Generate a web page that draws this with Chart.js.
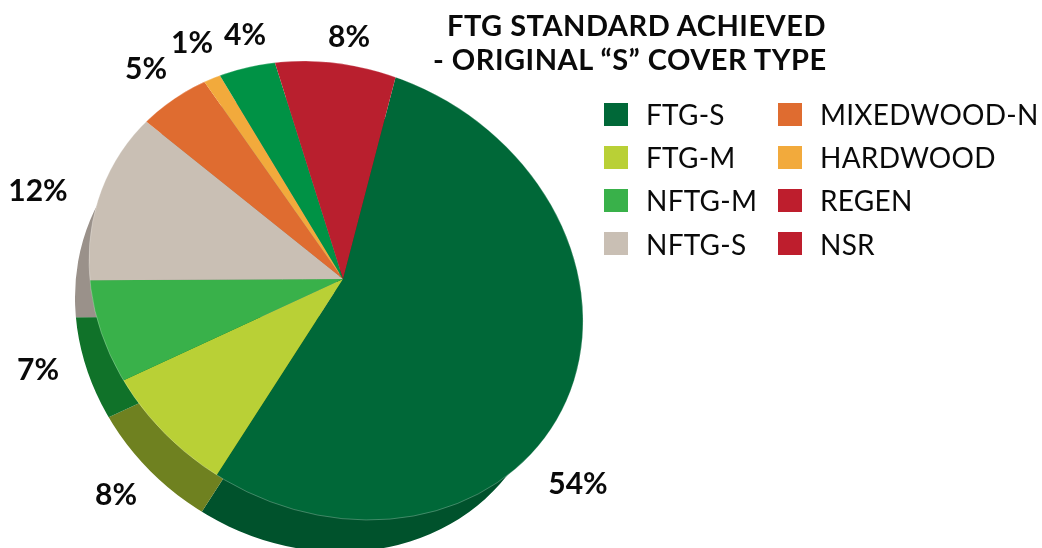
<!DOCTYPE html>
<html>
<head>
<meta charset="utf-8">
<script src="https://cdn.jsdelivr.net/npm/chart.js@4"></script>
<style>
html, body { margin: 0; padding: 0; background: #fff; }
#wrap { position: relative; width: 1042px; height: 548px; overflow: hidden; font-family: Lato, sans-serif; color: #0a0a0a; }
canvas { position: absolute; }
#back { left: -15px; top: 37px; }
#front { left: 0; top: 0; }
.txt { position: absolute; white-space: nowrap; line-height: 1; }
.pct { font-size: 30px; font-weight: 700; transform: translate(-50%, -50%); }
.ttl { font-size: 29px; font-weight: 700; letter-spacing: 0.5px; }
.leg { font-size: 28px; font-weight: 400; letter-spacing: 0.25px; }
.swatch { position: absolute; width: 24px; height: 23px; }
</style>
</head>
<body>
<div id="wrap">
  <canvas id="back" width="1042" height="548"></canvas>
  <canvas id="front" width="1042" height="548"></canvas>
</div>
<script>
// slice shares as they are drawn in the picture, clockwise from the 54% slice
const sliceNames = ['FTG-S', 'FTG-M', 'NFTG-M', 'NFTG-S', 'MIXEDWOOD-N', 'HARDWOOD', 'REGEN', 'NSR']
const sliceValues = [55, 9, 6.8, 10.8, 4.5, 1.1, 3.8, 8.9]
const pctLabels = ['54%', '8%', '7%', '12%', '5%', '1%', '4%', '8%']

const topColors = ['#006838', '#b9d036', '#39b14a', '#c9bfb4', '#df6c30', '#f2aa3c', '#009245', '#b91f2e']
const sideColors = ['#00522c', '#6f8120', '#107229', '#9a918a', '#9a918a', '#9a918a', '#9a918a', '#9a918a']

const legendNames = ['FTG-S', 'FTG-M', 'NFTG-M', 'NFTG-S', 'MIXEDWOOD-N', 'HARDWOOD', 'REGEN', 'NSR']
const legendColors = ['#006838', '#b9d036', '#39b14a', '#c9bfb4', '#df6c30', '#f2aa3c', '#be1e2d', '#be1e2d']

const titleLines = ['FTG STANDARD ACHIEVED', '- ORIGINAL “S” COVER TYPE']

// the pie is bigger than the visible shape, this trims it to the tilted outline
function tiltClip(outline, rim) {
    const path = ctx => {
        ctx.beginPath()
        ctx.ellipse(outline.x, outline.y, outline.a, outline.b, outline.angle * Math.PI / 180, 0, Math.PI * 2)
    }
    return {
        id: 'tiltClip',
        beforeDatasetsDraw(chart) {
            chart.ctx.save()
            path(chart.ctx)
            chart.ctx.clip()
        },
        afterDatasetsDraw(chart) {
            const ctx = chart.ctx
            ctx.restore()
            if (rim) {
                // faint light edge where the top meets the side
                path(ctx)
                ctx.strokeStyle = 'rgba(255,255,255,0.25)'
                ctx.lineWidth = 1
                ctx.stroke()
            }
        }
    }
}

function makePie(id, colors, outline, rim) {
    return new Chart(document.getElementById(id), {
        type: 'pie',
        data: {
            labels: sliceNames,
            datasets: [{ data: sliceValues, backgroundColor: colors, borderWidth: 0 }]
        },
        options: {
            responsive: false,
            animation: false,
            rotation: 14.6,
            layout: { padding: { left: 83, right: 439, top: 19, bottom: 9 } },
            plugins: { legend: { display: false }, tooltip: { enabled: false } }
        },
        plugins: [tiltClip(outline, rim)]
    })
}

makePie('back', sideColors, { x: 327, y: 288, a: 246.5, b: 216.7, angle: 35.2 }, false)
makePie('front', topColors, { x: 336, y: 290.5, a: 255.8, b: 219.7, angle: 30.4 }, true)

const wrap = document.getElementById('wrap')

function addText(cls, text, x, y) {
    const el = document.createElement('div')
    el.className = 'txt ' + cls
    el.textContent = text
    el.style.left = x + 'px'
    el.style.top = y + 'px'
    wrap.appendChild(el)
}

// title
addText('ttl', titleLines[0], 447, 10)
addText('ttl', titleLines[1], 433, 44)

// percent labels, same order as the slices (centre of each text)
const pctSpots = [[578, 482], [116, 493], [38, 368], [38, 189], [146, 67], [192, 41], [245, 33], [349, 35]]
pctLabels.forEach((t, i) => addText('pct', t, pctSpots[i][0], pctSpots[i][1]))

// legend in two columns
legendNames.forEach((name, i) => {
    const col = i < 4 ? 0 : 1
    const row = i % 4
    const sw = document.createElement('div')
    sw.className = 'swatch'
    sw.style.left = (col === 0 ? 604 : 778) + 'px'
    sw.style.top = (102.5 + row * 43.2) + 'px'
    sw.style.background = legendColors[i]
    wrap.appendChild(sw)
    addText('leg', name, col === 0 ? 646 : 820, 100 + row * 43.2)
})
</script>
</body>
</html>
